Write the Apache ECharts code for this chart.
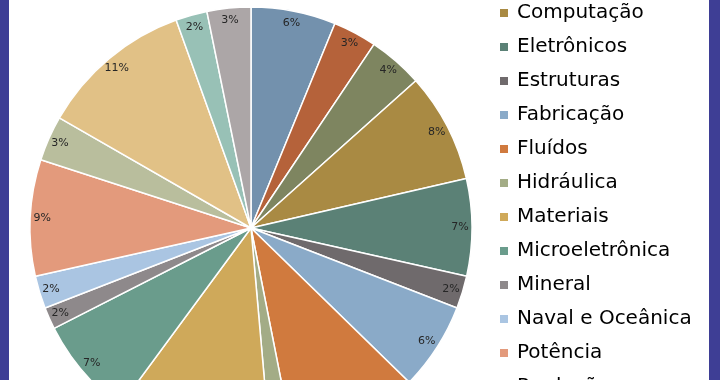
<!DOCTYPE html>
<html>
<head>
<meta charset="utf-8">
<script src="https://cdn.jsdelivr.net/npm/echarts@6/dist/echarts.min.js"></script>
<style>
html,body{margin:0;padding:0;background:#fff;}
#chart{width:720px;height:380px;}
</style>
</head>
<body>
<div id="chart"></div>
<script>
// Categories (legend order = slice order, clockwise from 12 o'clock)
const categories = [
  'Aeroespacial', 'Automação', 'Biomédica',
  'Computação', 'Eletrônicos', 'Estruturas', 'Fabricação', 'Fluídos',
  'Hidráulica', 'Materiais', 'Microeletrônica', 'Mineral',
  'Naval e Oceânica', 'Potência', 'Produção',
  'Química', 'Sistemas', 'Telecomunicações'
];
// Share of each area (percent)
const shares = [
  6.2, 3.2, 4.0,
  8.0, 7.1, 2.4, 6.4, 9.6,
  1.7, 11.5, 7.4, 1.6,
  2.4, 8.5, 3.3,
  11.2, 2.3, 3.2
];
const colors = [
  '#7391AD', '#B5623A', '#7E8560',
  '#A98A43', '#5B8176', '#6F6A6C', '#8AAAC8', '#D07A3E',
  '#A3AC86', '#CFA95A', '#6A9C8C', '#8E898B',
  '#AAC5E2', '#E39A7C', '#B9BE9D',
  '#E1C186', '#98C1B6', '#ACA6A7'
];

const data = categories.map((name, i) => ({ name: name, value: shares[i] }));

const chart = echarts.init(document.getElementById('chart'), null, { renderer: 'canvas' });
chart.setOption({
  animation: false,
  backgroundColor: '#ffffff',
  color: colors,
  graphic: [
    { type: 'rect', left: 0, top: 0, shape: { width: 9, height: 380 }, style: { fill: '#3E3E95' }, z: 100 },
    { type: 'rect', left: 709, top: 0, shape: { width: 11, height: 380 }, style: { fill: '#3E3E95' }, z: 100 }
  ],
  legend: {
    orient: 'vertical',
    left: 498,
    top: -99,
    height: 900,
    padding: 0,
    icon: 'rect',
    itemWidth: 10,
    itemHeight: 10,
    itemGap: 14,
    data: categories,
    textStyle: {
      fontFamily: 'DejaVu Sans',
      fontSize: 20,
      lineHeight: 20,
      color: '#000',
      padding: [0, 0, 0, 3]
    }
  },
  series: [
    {
      type: 'pie',
      center: [251, 228],
      radius: 221,
      startAngle: 90,
      clockwise: true,
      data: data,
      label: { show: false },
      labelLine: { show: false },
      itemStyle: { borderColor: '#ffffff', borderWidth: 1.5 },
      emphasis: { disabled: true }
    },
    {
      type: 'pie',
      center: [251, 228],
      radius: [191, 221],
      startAngle: 90,
      clockwise: true,
      silent: true,
      data: data,
      itemStyle: { color: 'rgba(0,0,0,0)', borderWidth: 0 },
      label: {
        show: true,
        position: 'inside',
        fontFamily: 'DejaVu Sans',
        fontSize: 11,
        color: '#262626',
        formatter: p => Math.round(p.percent) + '%'
      },
      labelLine: { show: false },
      emphasis: { disabled: true }
    }
  ]
});
</script>
</body>
</html>
